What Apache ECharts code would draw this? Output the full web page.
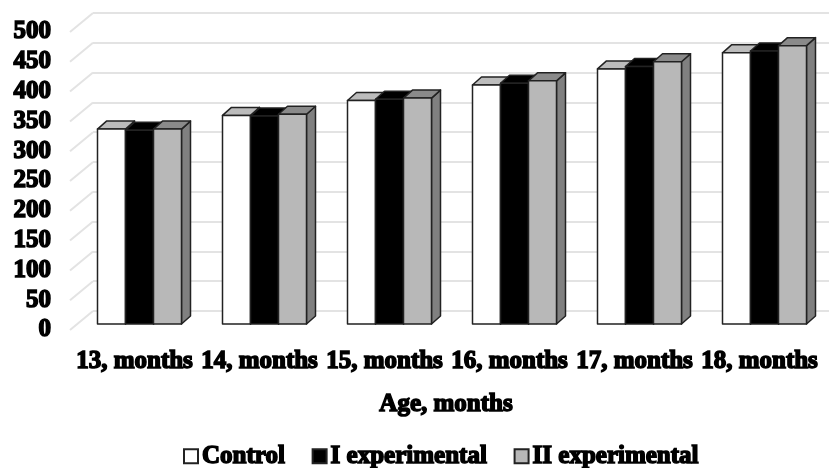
<!DOCTYPE html>
<html>
<head>
<meta charset="utf-8">
<style>html,body{margin:0;background:#fff}#c{width:829px;height:468px}</style>
<script src="https://cdn.jsdelivr.net/npm/echarts@6/dist/echarts.min.js"></script>
</head>
<body>
<div id="c"></div>
<script>
const categories = ['13, months','14, months','15, months','16, months','17, months','18, months'];
const control = [327,350,375,401,428,455];
const experimentalOne = [325,349,377,404,432,458];
const experimentalTwo = [327,352,379,408,440,467];
const valueTicks = [0,50,100,150,200,250,300,350,400,450,500];

const FONT = '"Liberation Serif"';
const BAR = 28, DX = 9, DY = 8;
const WALL_DX = 23, WALL_DY = 19;
const heavy = {fontFamily: FONT, fontWeight: 'bold', fontSize: 25, color: '#000', textBorderColor: '#000', textBorderWidth: 1.5};

// Box with a front, a lit top and a shaded right side.
function box(idx, front, top, side) {
  return function (params, api) {
    const p = api.coord([api.value(0), api.value(1)]);
    const base = api.coord([api.value(0), 0]);
    const x = p[0] + (idx - 1.5) * BAR, y = p[1];
    const s = {stroke: '#222', lineWidth: 1.5, lineJoin: 'round'};
    return {type: 'group', children: [
      {type: 'polygon', shape: {points: [[x+BAR,y],[x+BAR+DX,y-DY],[x+BAR+DX,base[1]-DY],[x+BAR,base[1]]]}, style: {fill: side, ...s}},
      {type: 'polygon', shape: {points: [[x,y],[x+DX,y-DY],[x+BAR+DX,y-DY],[x+BAR,y]]}, style: {fill: top, ...s}},
      {type: 'rect', shape: {x: x, y: y, width: BAR, height: base[1]-y}, style: {fill: front, ...s}}
    ]};
  };
}

function barSeries(name, values, idx, front, top, side) {
  return {
    name, type: 'custom', xAxisIndex: 1, yAxisIndex: 1, clip: false, z: 5 + idx,
    itemStyle: {color: front, borderColor: '#222', borderWidth: 1.5},
    encode: {x: 0, y: 1},
    data: categories.map((c, i) => [i, values[i]]),
    renderItem: box(idx, front, top, side)
  };
}

const chart = echarts.init(document.getElementById('c'));
chart.setOption({
  animation: false,
  backgroundColor: '#fff',
  grid: [
    {left: 93, top: 13, width: 760, height: 298},
    {left: 77, top: 26, width: 750, height: 298},
    {left: 70, top: 32, width: 23, height: 298}
  ],
  xAxis: [
    {type: 'value', gridIndex: 0, min: 0, max: 1, show: false},
    {type: 'category', gridIndex: 1, data: categories,
     axisLine: {show: false}, axisTick: {show: false}, splitLine: {show: false},
     axisLabel: {...heavy, margin: 25, interval: 0, padding: [0, 10, 0, 0]}},
    {type: 'value', gridIndex: 2, min: 0, max: 1, show: false}
  ],
  yAxis: [
    {type: 'value', gridIndex: 0, min: 0, max: 500, interval: 50,
     axisLine: {show: false}, axisTick: {show: false}, axisLabel: {show: false},
     splitLine: {lineStyle: {color: '#e3e3e3', width: 2}}},
    {type: 'value', gridIndex: 1, min: 0, max: 500, interval: 50, show: false},
    {type: 'value', gridIndex: 2, min: 0, max: 500, interval: 50,
     axisLine: {show: false}, axisTick: {show: false}, splitLine: {show: false},
     axisLabel: {...heavy, margin: 19}}
  ],
  title: {
    text: 'Age, months', left: 441, top: 387, textAlign: 'center',
    textStyle: {...heavy}
  },
  legend: {
    left: 178, top: 438, itemWidth: 14, itemHeight: 14, itemGap: 26, icon: 'rect',
    textStyle: {...heavy, padding: [0, 0, 0, -1]},
    data: ['Control', 'I experimental', 'II experimental']
  },
  series: [
    {
      type: 'custom', xAxisIndex: 2, yAxisIndex: 2, silent: true, clip: false, z: 1,
      legendHoverLink: false,
      data: valueTicks.map(v => [0, v]),
      renderItem: (params, api) => {
        const p = api.coord([0, api.value(1)]);
        return {type: 'line', shape: {x1: p[0], y1: p[1], x2: p[0] + WALL_DX, y2: p[1] - WALL_DY},
                style: {stroke: '#e3e3e3', lineWidth: 2}};
      }
    },
    barSeries('Control', control, 0, '#ffffff', '#bcbcbc', '#808080'),
    barSeries('I experimental', experimentalOne, 1, '#000000', '#000000', '#000000'),
    barSeries('II experimental', experimentalTwo, 2, '#b8b8b8', '#8a8a8a', '#808080')
  ]
});
</script>
</body>
</html>
